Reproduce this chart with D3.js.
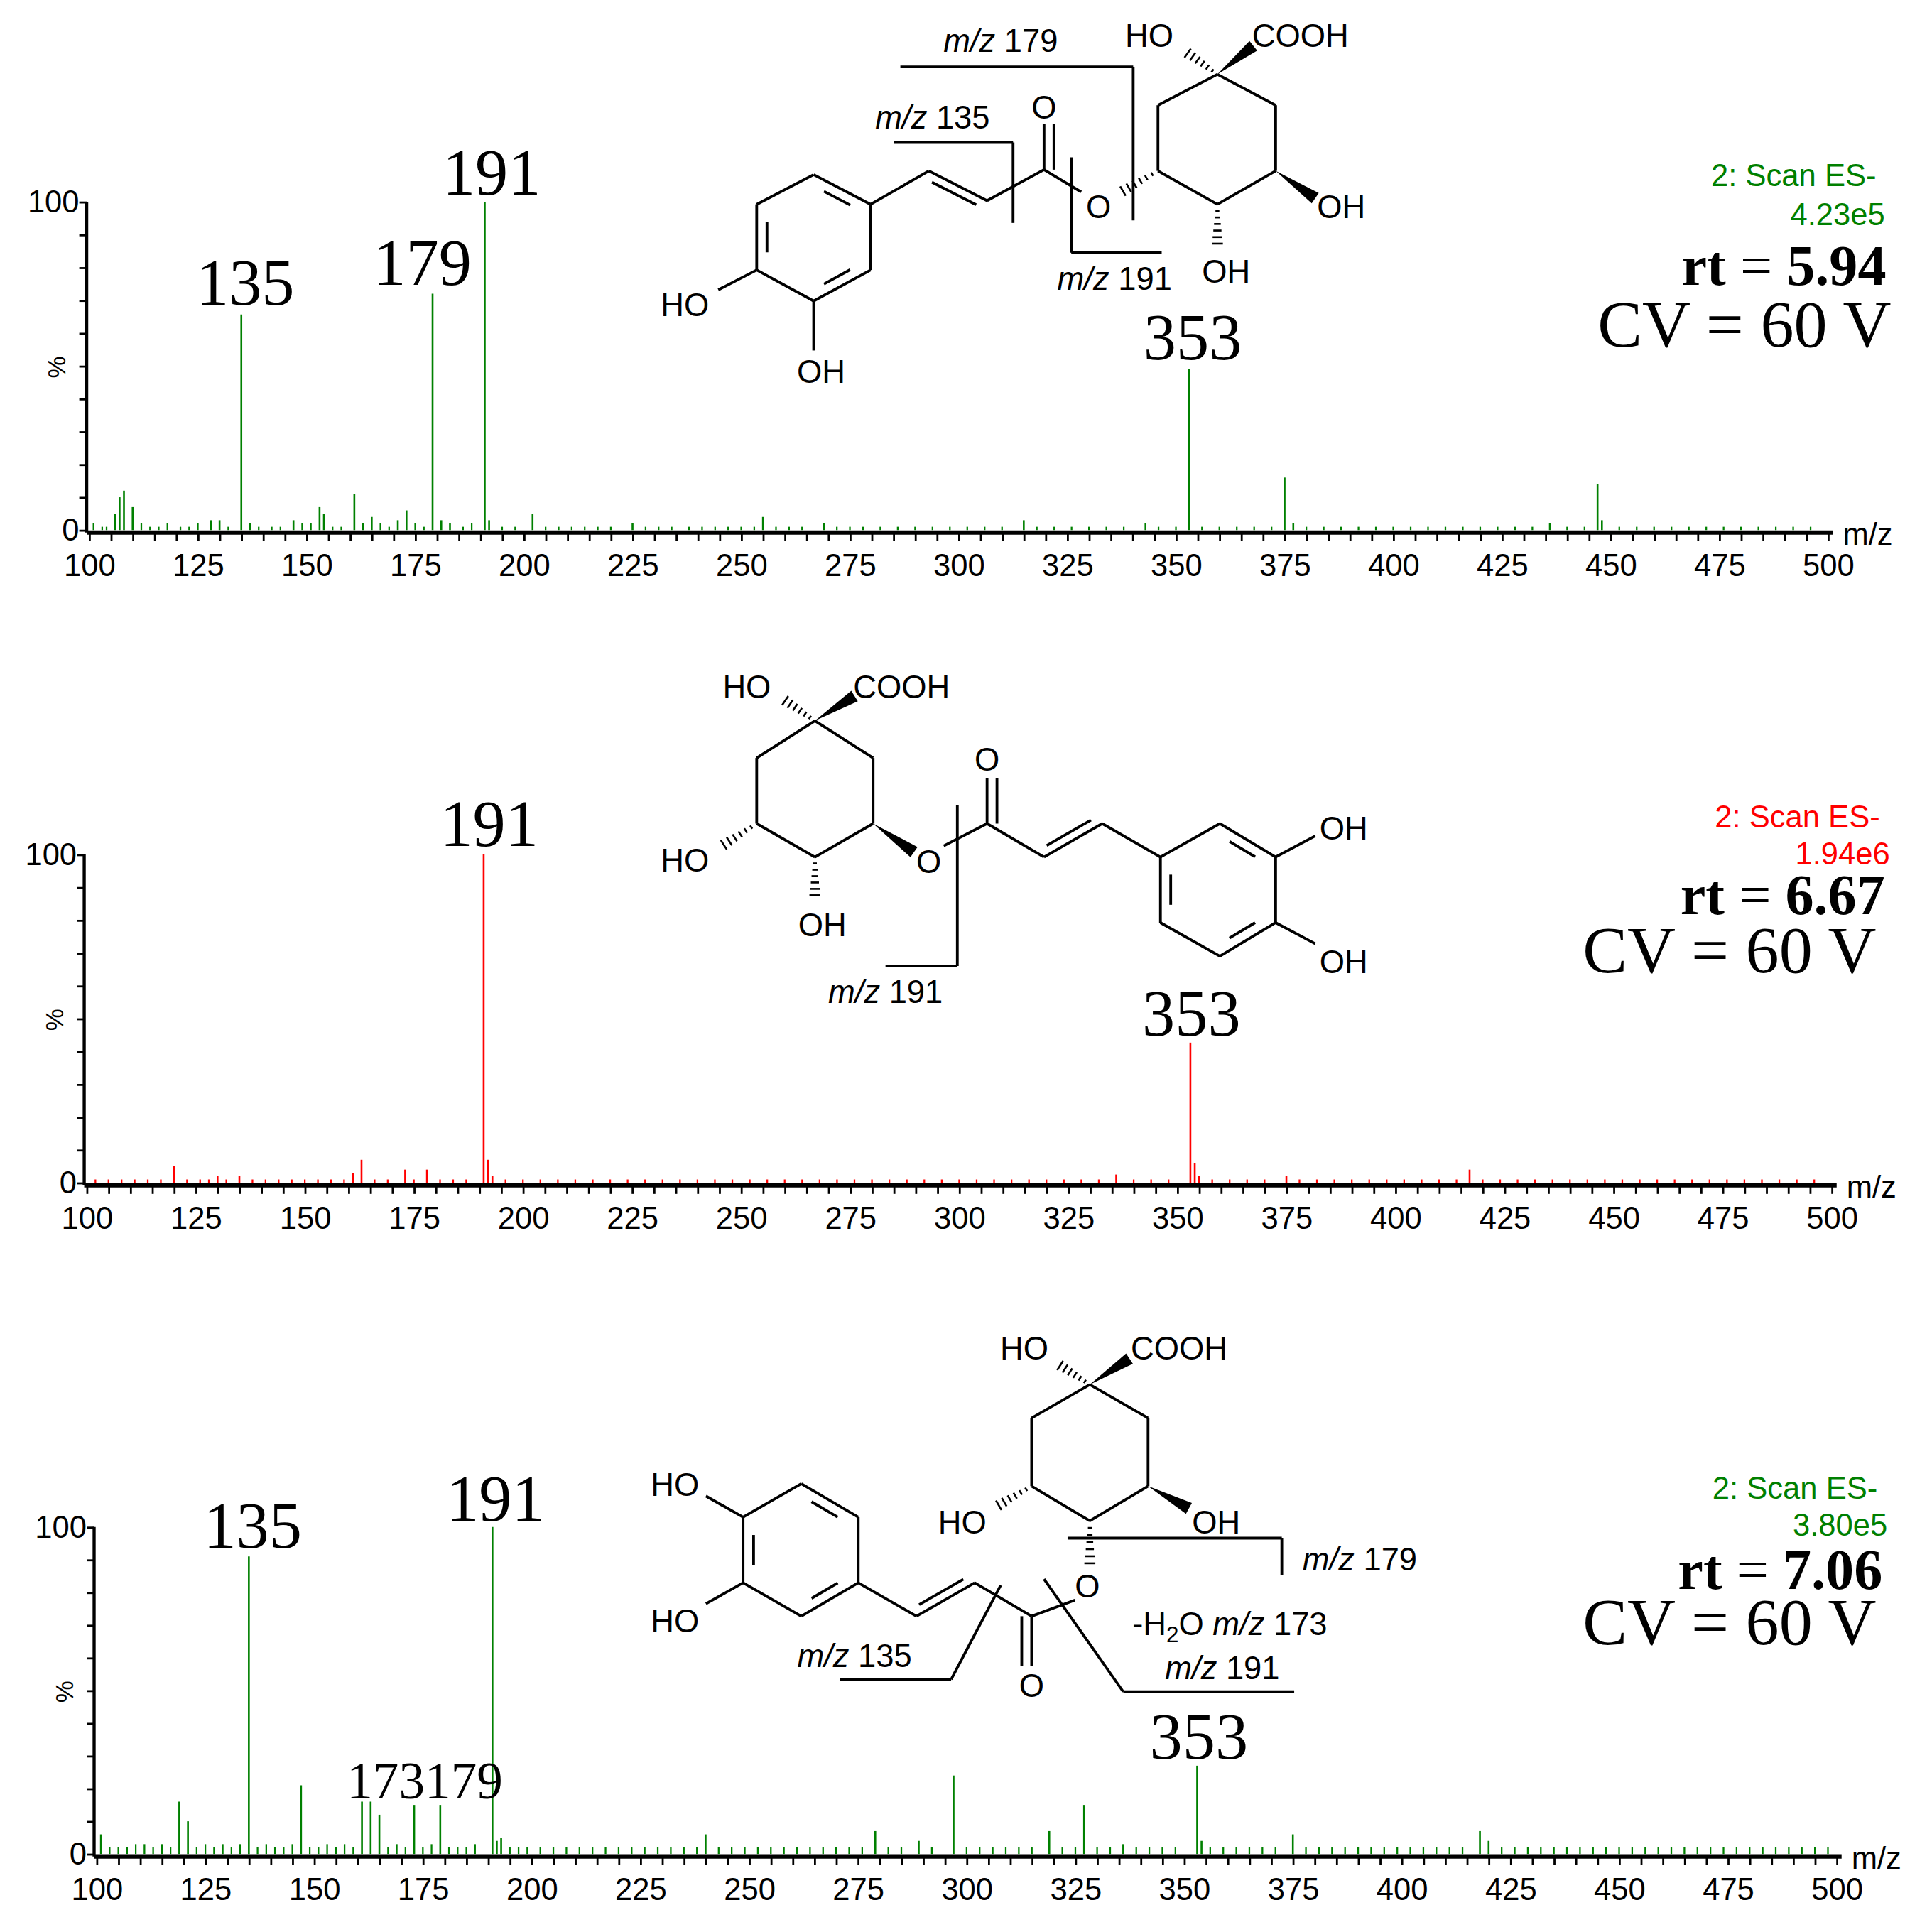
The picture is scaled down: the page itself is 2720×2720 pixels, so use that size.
<!DOCTYPE html>
<html><head><meta charset="utf-8">
<script src="https://cdn.jsdelivr.net/npm/d3@7"></script>
<style>body{margin:0;background:#fff}</style></head>
<body><script>
// ---------- DATA ----------
const xTickValues = d3.range(100, 501, 5);
const xTickLabels = [100,125,150,175,200,225,250,275,300,325,350,375,400,425,450,475,500];
const yTickValues = [0,10,20,30,40,50,60,70,80,90,100];

const peaks1 = [[135,65.7],[179,72],[191,100],[353,49],[375,16],[447,14],[107,10],[108,12],[110,7],[106,5],[153,7],[154,5],[161,11],[173,6],[171,3],[165,4],[202,5],[255,4],[315,3],[192,3],[181,3],[183,2],[128,3],[130,3],[147,3],[225,2],[269,2],[343,2],[377,2],[448,3]];
const noise1 = [[101,2],[103,1],[104,1],[112,2],[114,1],[116,1],[118,2],[121,1],[123,1],[125,2],[132,1],[137,2],[139,1],[142,1],[144,1],[149,2],[151,2],[156,1],[158,1],[163,2],[167,2],[169,1],[175,2],[177,1],[186,1],[188,2],[195,1],[198,1],[205,1],[208,1],[211,1],[214,1],[217,1],[220,1],[228,1],[231,1],[234,1],[238,1],[241,1],[244,1],[247,1],[250,1],[253,1],[258,1],[261,1],[264,1],[272,1],[275,1],[278,1],[282,1],[286,1],[290,1],[294,1],[298,1],[302,1],[306,1],[310,1],[318,1],[322,1],[326,1],[330,1],[334,1],[338,1],[346,1],[350,1],[356,1],[360,1],[364,1],[368,1],[372,1],[380,1],[384,1],[388,1],[392,1],[396,1],[400,1],[404,1],[408,1],[412,1],[416,1],[420,1],[424,1],[428,1],[432,1],[436,2],[440,1],[444,1],[452,1],[456,1],[460,1],[464,1],[468,1],[472,1],[476,1],[480,1],[484,1],[488,1],[492,1],[496,1]];

const peaks2 = [[191,100],[353,42.7],[192,7],[354,6],[163,7],[161,3],[120,5],[173,4],[178,4],[417,4],[336,2.5],[355,2],[193,2],[130,2],[135,2],[375,2]];
const noise2 = [[102,1],[105,1],[108,1],[111,1],[114,1],[117,1],[123,1],[126,1],[128,1],[132,1],[138,1],[141,1],[144,1],[147,1],[150,1],[153,1],[156,1],[159,1],[166,1],[169,1],[175,1],[181,1],[184,1],[187,1],[196,1],[200,1],[204,1],[208,1],[212,1],[216,1],[220,1],[224,1],[228,1],[232,1],[236,1],[240,1],[244,1],[248,1],[252,1],[256,1],[260,1],[264,1],[268,1],[272,1],[276,1],[280,1],[284,1],[288,1],[292,1],[296,1],[300,1],[304,1],[308,1],[312,1],[316,1],[320,1],[324,1],[328,1],[332,1],[340,1],[344,1],[348,1],[358,1],[362,1],[366,1],[370,1],[378,1],[382,1],[386,1],[390,1],[394,1],[398,1],[402,1],[406,1],[410,1],[414,1],[420,1],[424,1],[428,1],[432,1],[436,1],[440,1],[444,1],[448,1],[452,1],[456,1],[460,1],[464,1],[468,1],[472,1],[476,1],[480,1],[484,1],[488,1],[492,1],[496,1]];

const peaks3 = [[135,91],[191,100],[353,27],[297,24],[327,15],[147,21],[119,16],[121,10],[161,16],[163,16],[165,12],[173,15],[179,15],[279,7],[240,6],[319,7],[375,6],[418,7],[101,6],[193,5],[192,4],[354,4],[289,4],[336,3],[420,4]];
const noise3 = [[103,2],[105,2],[107,2],[109,3],[111,3],[113,2],[115,3],[117,2],[123,2],[125,3],[127,2],[129,3],[131,2],[133,3],[137,2],[139,3],[141,2],[143,2],[145,3],[149,2],[151,2],[153,3],[155,2],[157,3],[159,2],[167,2],[169,3],[171,2],[175,2],[177,3],[181,2],[183,2],[185,2],[187,3],[195,2],[197,2],[199,2],[202,2],[205,2],[208,2],[211,2],[214,2],[217,2],[220,2],[223,2],[226,2],[229,2],[232,2],[235,2],[238,2],[243,2],[246,2],[249,2],[252,2],[255,2],[258,2],[261,2],[264,2],[267,2],[270,2],[273,2],[276,2],[282,2],[285,2],[292,2],[300,2],[303,2],[306,2],[309,2],[312,2],[315,2],[322,2],[325,2],[330,2],[333,2],[339,2],[342,2],[345,2],[348,2],[356,2],[359,2],[362,2],[365,2],[368,2],[371,2],[378,2],[381,2],[384,2],[387,2],[390,2],[393,2],[396,2],[399,2],[402,2],[405,2],[408,2],[411,2],[414,2],[423,2],[426,2],[429,2],[432,2],[435,2],[438,2],[441,2],[444,2],[447,2],[450,2],[453,2],[456,2],[459,2],[462,2],[465,2],[468,2],[471,2],[474,2],[477,2],[480,2],[483,2],[486,2],[489,2],[492,2],[495,2],[498,2]];

const panelPeakLabels = [
  [["135",135,65.7],["179",179,72],["191",191,100],["353",353,49]],
  [["191",191,100],["353",353,42.7]],
  [["135",135,91],["191",191,100],["353",353,27]]
];
const scanInfo = [["2: Scan ES-","4.23e5","5.94"],["2: Scan ES-","1.94e6","6.67"],["2: Scan ES-","3.80e5","7.06"]];
const seriesColors = ["#008000","#ff0000","#008000"];

// ---------- LAYOUT (display units, viewBox 1560) ----------
const W = 2720;
const svg = d3.select("body").append("svg").attr("width",W).attr("height",W)
  .attr("viewBox","0 0 1560 1560");
const panels = [
  {x0:70,x1:1476,yTop:163,yBot:430,peaks:peaks1,noise:noise1,label:[[198,246],[341,230],[397,157],[963,290]],info:{y:[150,182,230,280],r:[1515,1522,1523,1527]}},
  {x0:68,x1:1479,yTop:690,yBot:957,peaks:peaks2,noise:noise2,label:[[395,683],[962,836]],info:{y:[668,698,738,785],r:[1518,1526,1522,1515]}},
  {x0:76,x1:1483,yTop:1233,yBot:1499,peaks:peaks3,noise:noise3,label:[[204,1250],[400,1228],[968,1420]],info:{y:[1210,1240,1283,1328],r:[1516,1524,1520,1515]}}
];

panels.forEach((p,i)=>{
  const g = svg.append("g");
  const x = d3.scaleLinear().domain([100,500]).range([p.x0+2,p.x1]);
  const y = d3.scaleLinear().domain([0,100]).range([p.yBot-2,p.yTop]);
  const col = seriesColors[i];
  g.selectAll(".n").data(p.noise).join("line")
    .attr("x1",d=>x(d[0])).attr("x2",d=>x(d[0])).attr("y1",y(0)).attr("y2",d=>y(d[1]))
    .attr("stroke",col).attr("stroke-width",1.3);
  g.selectAll(".p").data(p.peaks).join("line")
    .attr("x1",d=>x(d[0])).attr("x2",d=>x(d[0])).attr("y1",y(0)).attr("y2",d=>y(d[1]))
    .attr("stroke",col).attr("stroke-width",1.5);
  const xa = g.append("g").attr("transform",`translate(0,${p.yBot})`)
    .call(d3.axisBottom(x).tickValues(xTickValues).tickSize(7).tickSizeOuter(0)
      .tickFormat(d=>xTickLabels.includes(d)?d:""));
  xa.select(".domain").attr("stroke-width",3.5).attr("d",`M${p.x0},0H${p.x1+4}`);
  xa.selectAll(".tick line").attr("stroke-width",1.6);
  xa.selectAll("text").attr("font-family","Liberation Sans, Arial").attr("font-size",25).attr("dy","1.0em").attr("fill","#000");
  const ya = g.append("g").attr("transform",`translate(${p.x0},0)`)
    .call(d3.axisLeft(y).tickValues(yTickValues).tickSize(6).tickSizeOuter(0)
      .tickFormat(d=>(d===0||d===100)?d:""));
  ya.select(".domain").attr("stroke-width",2.5).attr("d",`M0,${p.yTop}V${p.yBot}`);
  ya.selectAll(".tick line").attr("stroke-width",1.6);
  ya.selectAll("text").attr("font-family","Liberation Sans, Arial").attr("font-size",25).attr("x",-6).attr("fill","#000");
  g.append("text").attr("transform",`translate(${p.x0-17},${(p.yTop+p.yBot)/2}) rotate(-90)`)
    .attr("text-anchor","middle").attr("font-family","Liberation Sans, Arial").attr("font-size",20).text("%");
  g.append("text").attr("x",p.x1+12).attr("y",p.yBot+10).attr("font-family","Liberation Sans, Arial").attr("font-size",25).text("m/z");
  panelPeakLabels[i].forEach((l,k)=>{
    g.append("text").attr("x",p.label[k][0]).attr("y",p.label[k][1]).attr("text-anchor","middle")
      .attr("font-family","Liberation Serif, Times New Roman").attr("font-size",53).text(l[0]);
  });
  const inf = scanInfo[i];
  g.append("text").attr("x",p.info.r[0]).attr("y",p.info.y[0]).attr("text-anchor","end").attr("fill",col)
    .attr("font-family","Liberation Sans, Arial").attr("font-size",25).text(inf[0]);
  g.append("text").attr("x",p.info.r[1]).attr("y",p.info.y[1]).attr("text-anchor","end").attr("fill",col)
    .attr("font-family","Liberation Sans, Arial").attr("font-size",25).text(inf[1]);
  const rt = g.append("text").attr("x",p.info.r[2]).attr("y",p.info.y[2]).attr("text-anchor","end")
    .attr("font-family","Liberation Serif, Times New Roman").attr("font-size",46);
  rt.append("tspan").attr("font-weight","bold").text("rt");
  rt.append("tspan").text(" = ");
  rt.append("tspan").attr("font-weight","bold").text(inf[2]);
  g.append("text").attr("x",p.info.r[3]).attr("y",p.info.y[3]).attr("text-anchor","end")
    .attr("font-family","Liberation Serif, Times New Roman").attr("font-size",54).text("CV = 60 V");
});
svg.append("text").attr("x",343).attr("y",1452).attr("text-anchor","middle")
  .attr("font-family","Liberation Serif, Times New Roman").attr("font-size",42).text("173179");

// ---------- STRUCTURES ----------
const S = svg.append("g").attr("stroke","#000").attr("stroke-width",2.2).attr("fill","none");
function L(a){ for(let i=0;i<a.length-1;i++) S.append("line").attr("x1",a[i][0]).attr("y1",a[i][1]).attr("x2",a[i+1][0]).attr("y2",a[i+1][1]); }
function poly(a){ L(a.concat([a[0]])); }
function inner(p,q,c){
  const s=0.18, t=0.22;
  const a=[p[0]+(q[0]-p[0])*t, p[1]+(q[1]-p[1])*t], b=[p[0]+(q[0]-p[0])*(1-t), p[1]+(q[1]-p[1])*(1-t)];
  L([[a[0]+(c[0]-a[0])*s,a[1]+(c[1]-a[1])*s],[b[0]+(c[0]-b[0])*s,b[1]+(c[1]-b[1])*s]]);
}
function dbl(p,q,off){ const dx=q[0]-p[0],dy=q[1]-p[1],n=Math.hypot(dx,dy);
  const ox=-dy/n*off, oy=dx/n*off; L([[p[0]+ox+dx*0.12,p[1]+oy+dy*0.12],[q[0]+ox-dx*0.12,q[1]+oy-dy*0.12]]); }
function wedge(p,q){ const dx=q[0]-p[0],dy=q[1]-p[1],n=Math.hypot(dx,dy),ox=-dy/n*5,oy=dx/n*5;
  svg.append("path").attr("d",`M${p[0]},${p[1]}L${q[0]+ox},${q[1]+oy}L${q[0]-ox},${q[1]-oy}Z`).attr("fill","#000"); }
function hash(p,q){ const dx=q[0]-p[0],dy=q[1]-p[1],n=Math.hypot(dx,dy);
  for(let k=1;k<=6;k++){ const t=k/7,w=1+4*t,ox=-dy/n*w,oy=dx/n*w,cx=p[0]+dx*t,cy=p[1]+dy*t;
    S.append("line").attr("x1",cx-ox).attr("y1",cy-oy).attr("x2",cx+ox).attr("y2",cy+oy).attr("stroke-width",1.5);} }
function T(x,y,s,anchor){ return svg.append("text").attr("x",x).attr("y",y).attr("text-anchor",anchor||"middle")
  .attr("font-family","Liberation Sans, Arial").attr("font-size",26); }
function TS(x,y,s){ T(x,y).text(s); }
function MZ(x,y,num,anchor){ const t=T(x,y,null,anchor); t.append("tspan").attr("font-style","italic").text("m/z"); t.append("tspan").text(" "+num); return t; }

{
  const B=[[657,141],[703,165],[703,218],[657,243],[611,218],[611,165]], c=[657,192];
  poly(B); inner(B[0],B[1],c); inner(B[2],B[3],c); inner(B[4],B[5],c);
  L([[611,218],[580,234]]); TS(553,255,"HO");
  L([[657,243],[657,283]]); TS(663,309,"OH");
  L([[703,165],[750,138],[797,162],[843,137],[873,155]]); dbl([750,138],[797,162],7);
  L([[843,137],[843,100]]); L([[851,137],[851,100]]); TS(843,96,"O");
  TS(887,176,"O");
  hash([935,138],[902,157]);
  const Q=[[935,138],[935,85],[983,60],[1030,85],[1030,138],[983,165]]; poly(Q);
  wedge([983,60],[1012,37]); TS(1050,38,"COOH"); hash([983,60],[955,40]); TS(928,38,"HO");
  wedge([1030,138],[1062,160]); TS(1083,176,"OH");
  hash([983,165],[983,202]); TS(990,228,"OH");
  L([[727,54],[915,54],[915,178]]); MZ(808,42,"179");
  L([[722,115],[818,115],[818,180]]); MZ(753,104,"135");
  L([[865,127],[865,204],[938,204]]); MZ(900,234,"191");
}
{
  const Q=[[658,582],[705,612],[705,665],[658,692],[611,665],[611,612]]; poly(Q);
  hash([658,582],[630,563]); TS(603,564,"HO"); wedge([658,582],[690,562]); TS(728,564,"COOH");
  hash([611,665],[580,685]); TS(553,704,"HO");
  hash([658,692],[658,728]); TS(664,756,"OH");
  wedge([705,665],[738,688]); TS(750,705,"O");
  L([[762,683],[797,665],[843,692],[890,665],[937,692]]); dbl([843,692],[890,665],-7);
  L([[797,665],[797,628]]); L([[805,665],[805,628]]); TS(797,622,"O");
  const B=[[985,665],[1030,692],[1030,745],[985,772],[937,745],[937,692]], c=[983,718];
  poly(B); inner(B[0],B[1],c); inner(B[2],B[3],c); inner(B[4],B[5],c);
  L([[1030,692],[1062,675]]); TS(1085,678,"OH");
  L([[1030,745],[1062,762]]); TS(1085,786,"OH");
  L([[773,650],[773,780],[715,780]]); MZ(715,810,"191");
}
{
  const Q=[[880,1118],[927,1145],[927,1200],[880,1228],[833,1200],[833,1145]]; poly(Q);
  hash([880,1118],[852,1100]); TS(827,1098,"HO"); wedge([880,1118],[912,1097]); TS(952,1098,"COOH");
  hash([833,1200],[802,1218]); TS(777,1238,"HO");
  wedge([927,1200],[960,1218]); TS(982,1238,"OH");
  hash([880,1228],[880,1268]); TS(878,1290,"O");
  L([[868,1292],[833,1305],[787,1278],[740,1305],[693,1278]]); dbl([787,1278],[740,1305],7);
  L([[833,1305],[833,1345]]); L([[825,1305],[825,1345]]); TS(833,1370,"O");
  const B=[[693,1225],[647,1198],[600,1225],[600,1278],[647,1305],[693,1278]], c=[647,1252];
  poly(B); inner(B[0],B[1],c); inner(B[2],B[3],c); inner(B[4],B[5],c);
  L([[600,1225],[570,1208]]); TS(545,1208,"HO");
  L([[600,1278],[570,1295]]); TS(545,1318,"HO");
  L([[862,1242],[1035,1242],[1035,1272]]); MZ(1098,1268,"179");
  L([[808,1280],[768,1356],[678,1356]]); MZ(690,1346,"135");
  L([[843,1275],[907,1366],[1045,1366]]); MZ(987,1356,"191");
  const t=T(993,1320); t.append("tspan").text("-H"); t.append("tspan").attr("font-size",18).attr("dy",6).text("2");
  t.append("tspan").attr("dy",-6).text("O "); t.append("tspan").attr("font-style","italic").text("m/z"); t.append("tspan").text(" 173");
}
</script></body></html>
